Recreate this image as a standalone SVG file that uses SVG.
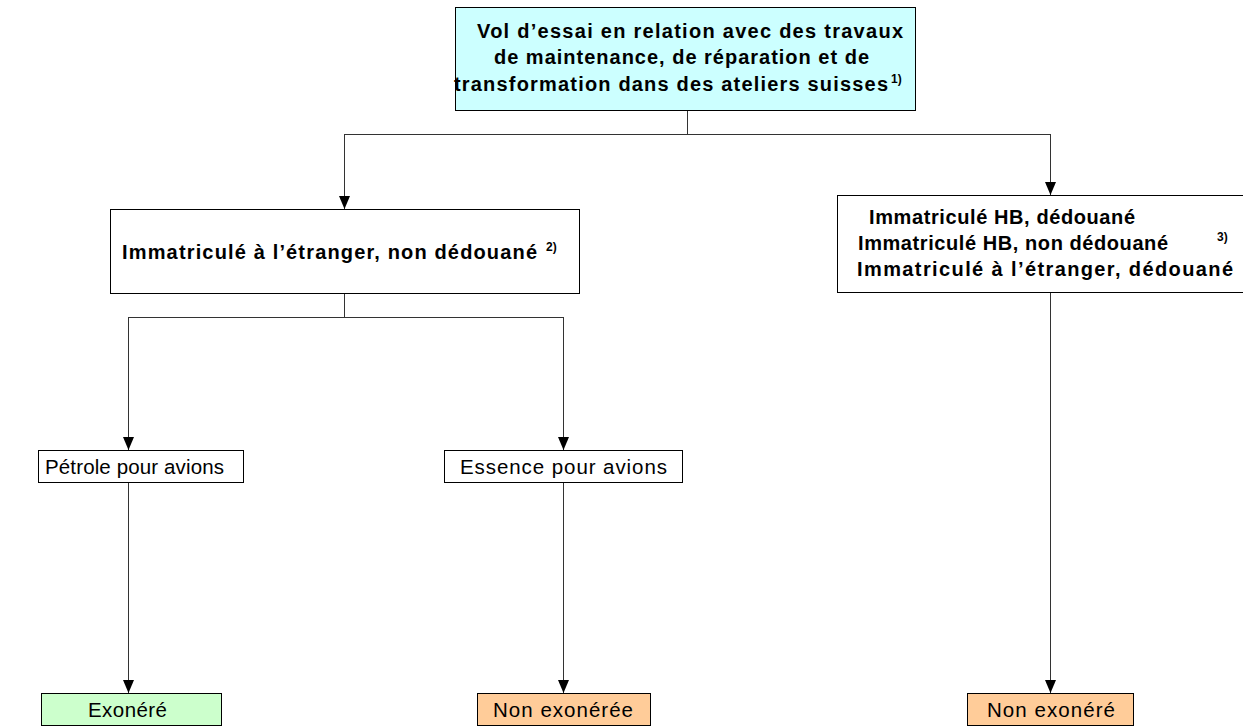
<svg xmlns="http://www.w3.org/2000/svg" width="1243" height="726" viewBox="0 0 1243 726">
<defs>
<marker id="arr" markerWidth="13" markerHeight="11" refX="13" refY="5.5" orient="auto" markerUnits="userSpaceOnUse" viewBox="0 0 13 11">
<path d="M0,0 L13,5.5 L0,11 Z" fill="#000"/>
</marker>
<style>
.box{stroke:#000;stroke-width:1}
.b{font-family:"Liberation Sans",Arial,sans-serif;font-weight:bold;font-size:20px;fill:#000}
.r{font-family:"Liberation Sans",Arial,sans-serif;font-size:20.5px;fill:#000}
.sup{font-family:"Liberation Sans",Arial,sans-serif;font-weight:bold;font-size:12px;fill:#000}
.ln{stroke:#333;stroke-width:1;fill:none}
.ar{stroke:#333;stroke-width:1;fill:none;marker-end:url(#arr)}
</style>
</defs>
<rect width="1243" height="726" fill="#fff"/>
<g id="connectors">
<path class="ln" d="M687.5,110 V134.5 M344.5,134.5 H1050.5"/>
<path class="ar" d="M344.5,134 V209"/>
<path class="ar" d="M1050.5,134 V195"/>
<path class="ln" d="M344.5,293 V317.5 M128.5,317.5 H563.5"/>
<path class="ar" d="M128.5,317 V450"/>
<path class="ar" d="M563.5,317 V450"/>
<path class="ar" d="M128.5,482 V693"/>
<path class="ar" d="M563.5,482 V693"/>
<path class="ar" d="M1050.5,292 V693"/>
</g>
<g id="n-top">
<rect class="box" x="455.5" y="7.5" width="460" height="103" fill="#ccffff"/>
<text class="b" x="477" y="38" textLength="426" lengthAdjust="spacing">Vol d’essai en relation avec des travaux</text>
<text class="b" x="494" y="64" textLength="375" lengthAdjust="spacing">de maintenance, de réparation et de</text>
<text class="b" x="454" y="91" textLength="434" lengthAdjust="spacing">transformation dans des ateliers suisses</text>
<text class="sup" x="891" y="83">1)</text>
</g>
<g id="n-left">
<rect class="box" x="110.5" y="209.5" width="469" height="84" fill="#fff"/>
<text class="b" x="122" y="259" textLength="415" lengthAdjust="spacing">Immatriculé à l’étranger, non dédouané</text>
<text class="sup" x="546" y="251">2)</text>
</g>
<g id="n-right">
<rect class="box" x="837.5" y="195.5" width="420" height="97" fill="#fff"/>
<text class="b" x="869" y="224" textLength="266" lengthAdjust="spacing">Immatriculé HB, dédouané</text>
<text class="b" x="858" y="250" textLength="310" lengthAdjust="spacing">Immatriculé HB, non dédouané</text>
<text class="sup" x="1217" y="241">3)</text>
<text class="b" x="857" y="276" textLength="376" lengthAdjust="spacing">Immatriculé à l’étranger, dédouané</text>
</g>
<g id="n-petrole">
<rect class="box" x="38.5" y="450.5" width="205" height="32" fill="#fff"/>
<text class="r" x="45" y="474" textLength="179" lengthAdjust="spacing">Pétrole pour avions</text>
</g>
<g id="n-essence">
<rect class="box" x="444.5" y="450.5" width="238" height="32" fill="#fff"/>
<text class="r" x="460" y="474" textLength="207" lengthAdjust="spacing">Essence pour avions</text>
</g>
<g id="n-exonere">
<rect class="box" x="41.5" y="693.5" width="180" height="32" fill="#ccffcc"/>
<text class="r" x="88" y="717" textLength="79" lengthAdjust="spacing">Exonéré</text>
</g>
<g id="n-nonexoneree">
<rect class="box" x="477.5" y="693.5" width="173" height="32" fill="#ffcc99"/>
<text class="r" x="493" y="717" textLength="140" lengthAdjust="spacing">Non exonérée</text>
</g>
<g id="n-nonexonere">
<rect class="box" x="967.5" y="693.5" width="166" height="32" fill="#ffcc99"/>
<text class="r" x="987" y="717" textLength="128" lengthAdjust="spacing">Non exonéré</text>
</g>
</svg>
